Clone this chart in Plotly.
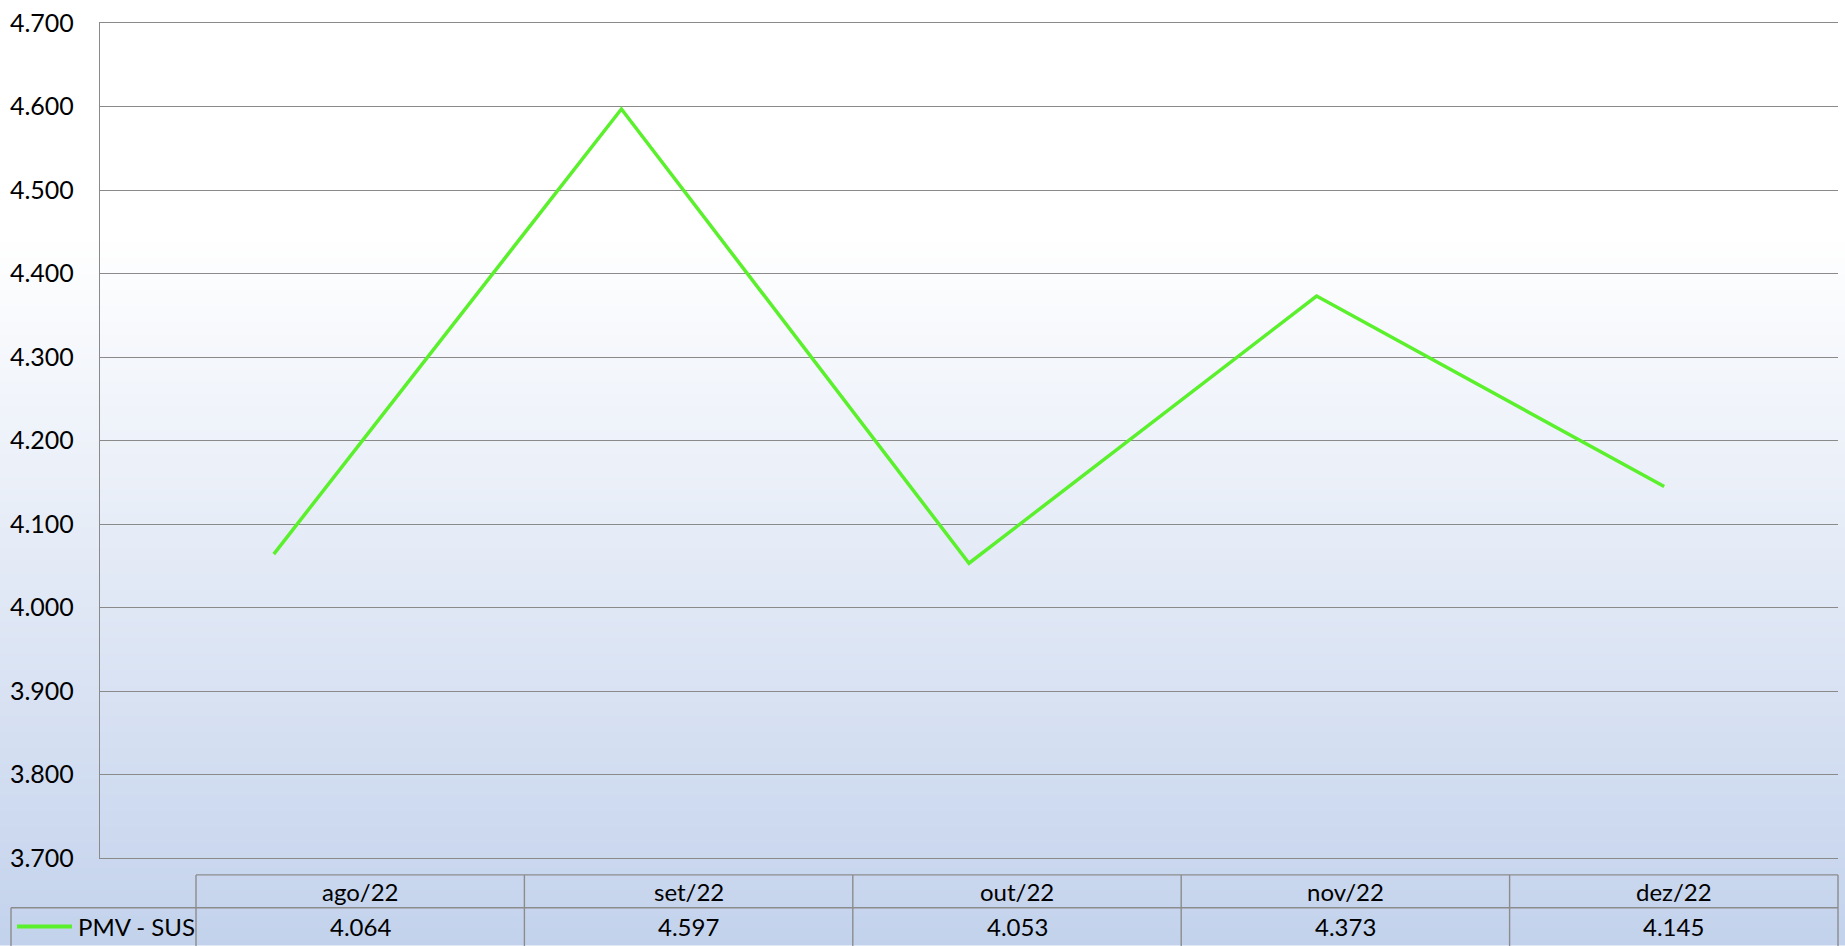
import base64
import struct
import zlib

import plotly.graph_objects as go

# ---- data ----
categories = ["ago/22", "set/22", "out/22", "nov/22", "dez/22"]
series_name = "PMV - SUS"
values = [4064, 4597, 4053, 4373, 4145]
y_min, y_max, y_step = 3700, 4700, 100

# ---- layout geometry (pixels) ----
W, H = 1845, 946
PL, PR, PT, PB = 100, 1838, 18, 858  # plot area
LINE_COLOR = "#5AF02C"
GRID = "#8a8a8a"
FONT = "Lato, 'Open Sans', sans-serif"


def fx(x):
    return (x - PL) / (PR - PL)


def fy(y):
    return (PB - y) / (PB - PT)


def fmt(v):
    return f"{v:,}".replace(",", ".")


# gradient background as a tiny PNG data URI
def gradient_png(h):
    top = (255, 255, 255)
    bot = (195, 210, 236)
    start = 230
    rows = []
    for y in range(h):
        t = 0.0 if y < start else (y - start) / (h - start)
        c = tuple(int(round(top[i] + (bot[i] - top[i]) * t)) for i in range(3))
        rows.append(c)
    raw = b"".join(b"\x00" + bytes(c) + bytes(c) for c in rows)

    def chunk(t, d):
        return struct.pack(">I", len(d)) + t + d + struct.pack(">I", zlib.crc32(t + d) & 0xFFFFFFFF)

    ihdr = struct.pack(">IIBBBBB", 2, h, 8, 2, 0, 0, 0)
    data = (b"\x89PNG\r\n\x1a\n" + chunk(b"IHDR", ihdr)
            + chunk(b"IDAT", zlib.compress(raw)) + chunk(b"IEND", b""))
    return "data:image/png;base64," + base64.b64encode(data).decode()


fig = go.Figure()
fig.add_trace(go.Scatter(
    x=categories, y=values, mode="lines", name=series_name,
    line=dict(color=LINE_COLOR, width=3.5), showlegend=False,
    hoverinfo="x+y",
))

shapes = []
annotations = []

# data table geometry
hdr_top, hdr_bot, row_bot = 875, 908, 952
tab_left, leg_left = 196, 11
ncol = len(categories)
colw = (PR - tab_left) / ncol
bc = "#8c8c8c"


def hline(x0, x1, y):
    shapes.append(dict(type="line", xref="paper", yref="paper", x0=fx(x0), x1=fx(x1),
                       y0=fy(y), y1=fy(y), line=dict(color=bc, width=1.4)))


def vline(x, y0, y1):
    shapes.append(dict(type="line", xref="paper", yref="paper", x0=fx(x), x1=fx(x),
                       y0=fy(y0), y1=fy(y1), line=dict(color=bc, width=1.4)))


hline(tab_left, PR, hdr_top)
hline(leg_left, PR, hdr_bot)
hline(leg_left, PR, row_bot)
vline(leg_left, hdr_bot, row_bot)
for i in range(ncol + 1):
    vline(tab_left + i * colw, hdr_top, row_bot)

for i, (c, v) in enumerate(zip(categories, values)):
    cx = tab_left + (i + 0.5) * colw
    annotations.append(dict(xref="paper", yref="paper", x=fx(cx), y=fy((hdr_top + hdr_bot) / 2),
                            text=c, showarrow=False, xanchor="center", yanchor="middle",
                            font=dict(family=FONT, size=24, color="#000")))
    annotations.append(dict(xref="paper", yref="paper", x=fx(cx), y=fy(927),
                            text=fmt(v), showarrow=False, xanchor="center", yanchor="middle",
                            font=dict(family=FONT, size=24, color="#000")))

# legend key in the table
shapes.append(dict(type="line", xref="paper", yref="paper", x0=fx(17), x1=fx(72),
                   y0=fy(927), y1=fy(927), line=dict(color=LINE_COLOR, width=4)))
annotations.append(dict(xref="paper", yref="paper", x=fx(76), y=fy(927),
                        text=series_name, showarrow=False, xanchor="left", yanchor="middle",
                        font=dict(family=FONT, size=24, color="#000")))

fig.update_layout(
    width=W, height=H,
    margin=dict(l=PL, r=W - PR, t=PT, b=H - PB, pad=0),
    paper_bgcolor="white",
    plot_bgcolor="rgba(0,0,0,0)",
    separators=",.",
    showlegend=False,
    shapes=shapes,
    annotations=annotations,
    images=[dict(source=gradient_png(H), xref="paper", yref="paper",
                 x=fx(0), y=fy(0), sizex=fx(W) - fx(0), sizey=fy(0) - fy(H),
                 xanchor="left", yanchor="top", sizing="stretch", layer="below")],
    xaxis=dict(
        type="category", range=[-0.5, ncol - 0.5], showticklabels=False,
        showgrid=False, zeroline=False, showline=True, mirror=True,
        linecolor=GRID, linewidth=1.3, ticks="",
    ),
    yaxis=dict(
        range=[y_min, y_max], dtick=y_step, tick0=y_min, tickformat=",d",
        showgrid=True, gridcolor=GRID, gridwidth=1.3,
        zeroline=False, showline=True, linecolor=GRID, linewidth=1.3,
        ticks="", ticklabelstandoff=20,
        tickfont=dict(family=FONT, size=25, color="#000"),
    ),
)

fig.write_html(
    "out.html",
    config={"displayModeBar": False},
    post_script="document.body.style.margin='0';document.body.style.overflow='hidden';",
)
